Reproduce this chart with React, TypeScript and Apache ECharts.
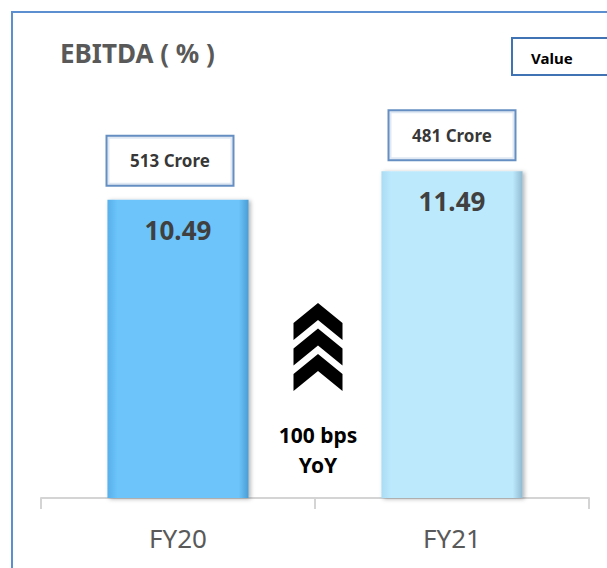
import React, { useEffect, useRef } from "react";
import * as echarts from "echarts";

const categories = ["FY20", "FY21"];
const ebitdaPct = [10.49, 11.49];
const ebitdaCrore = [513, 481];
const barColors = [
  ["#58b0ea", "#6cc4fb", "#6cc4fb", "#4a9cd4"],
  ["#a9dcf3", "#bde9fd", "#bde9fd", "#8fb9cf"],
];
const yoyText = ["100 bps", "YoY"];
const legendText = "Value";
const titleText = "EBITDA ( % )";

function chevron(cx: number, y: number) {
  const hw = 24.5;
  return [
    [cx, y],
    [cx + hw, y + 20],
    [cx + hw, y + 37],
    [cx, y + 17],
    [cx - hw, y + 37],
    [cx - hw, y + 20],
  ];
}

export default function App() {
  const ref = useRef<HTMLDivElement>(null);
  useEffect(() => {
    if (!ref.current) return;
    const chart = echarts.init(ref.current, null, { renderer: "svg" });
    const font = "'Noto Sans', 'Open Sans', sans-serif";
    const grad = (c: string[]) =>
      new echarts.graphic.LinearGradient(0, 0, 1, 0, [
        { offset: 0, color: c[0] },
        { offset: 0.07, color: c[1] },
        { offset: 0.93, color: c[2] },
        { offset: 1, color: c[3] },
      ]);
    chart.setOption({
      animation: false,
      title: {
        text: titleText,
        left: 55,
        top: 35,
        textStyle: { fontFamily: font, fontSize: 26, fontWeight: "bold", color: "#595959" },
      },
      grid: { left: 41, right: 18, top: 43, bottom: 70 },
      xAxis: {
        type: "category",
        data: categories,
        axisLine: { lineStyle: { color: "#d4d4d4", width: 2 } },
        axisTick: { show: true, length: 11, lineStyle: { color: "#d4d4d4", width: 2 } },
        axisLabel: { fontFamily: font, fontSize: 26, color: "#595959", margin: 27 },
      },
      yAxis: {
        type: "value",
        min: 0,
        max: 16,
        show: false,
        splitLine: { show: false },
      },
      series: [
        {
          type: "bar",
          barWidth: "51.5%",
          data: ebitdaPct.map((v, i) => ({
            value: v,
            itemStyle: {
              color: grad(barColors[i]),
              shadowColor: "rgba(0,0,0,0.3)",
              shadowBlur: 4,
              shadowOffsetX: 2,
              shadowOffsetY: 1,
            },
          })),
          label: {
            show: true,
            position: "insideTop",
            distance: 17,
            fontFamily: font,
            fontSize: 26,
            fontWeight: "bold",
            color: "#404040",
            formatter: (p: any) => p.value.toFixed(2),
          },
        },
        {
          type: "scatter",
          symbolSize: 0,
          silent: true,
          data: ebitdaPct.map((v, i) => ({
            value: v,
            label: { offset: i === 0 ? [-8, -3] : [0, 0] },
          })),
          label: {
            show: true,
            position: "top",
            distance: 12,
            formatter: (p: any) => `${ebitdaCrore[p.dataIndex]} Crore`,
            fontFamily: font,
            fontSize: 17,
            fontWeight: "bold",
            color: "#000",
            backgroundColor: "#fff",
            borderColor: "#3f73b3",
            borderWidth: 2,
            width: 125,
            align: "center",
            lineHeight: 18,
            padding: [15, 0],
          },
        },
      ],
      graphic: [
        {
          type: "polyline",
          shape: { points: [[12, 600], [12, 12], [620, 12]] },
          style: { stroke: "#5b8fd0", lineWidth: 2, fill: null },
        },
        {
          type: "rect",
          shape: { x: 512, y: 38, width: 110, height: 37 },
          style: { stroke: "#3f73b3", lineWidth: 2, fill: "#fff" },
        },
        {
          type: "text",
          x: 531,
          y: 58,
          style: {
            text: legendText,
            fontFamily: font,
            fontSize: 15,
            fontWeight: "bold",
            fill: "#000",
            verticalAlign: "middle",
          },
        },
        ...[303, 328.5, 354].map((y) => ({
          type: "polygon",
          shape: { points: chevron(318, y) },
          style: { fill: "#000" },
        })),
        {
          type: "text",
          x: 318,
          y: 435,
          style: {
            text: yoyText[0],
            fontFamily: font,
            fontSize: 21,
            fontWeight: "bold",
            fill: "#000",
            align: "center",
            verticalAlign: "middle",
          },
        },
        {
          type: "text",
          x: 318,
          y: 465,
          style: {
            text: yoyText[1],
            fontFamily: font,
            fontSize: 21,
            fontWeight: "bold",
            fill: "#000",
            align: "center",
            verticalAlign: "middle",
          },
        },
      ],
    });
    return () => chart.dispose();
  }, []);
  return (
    <div
      ref={ref}
      style={{ position: "fixed", left: 0, top: 0, width: 607, height: 568, background: "#fff" }}
    />
  );
}
